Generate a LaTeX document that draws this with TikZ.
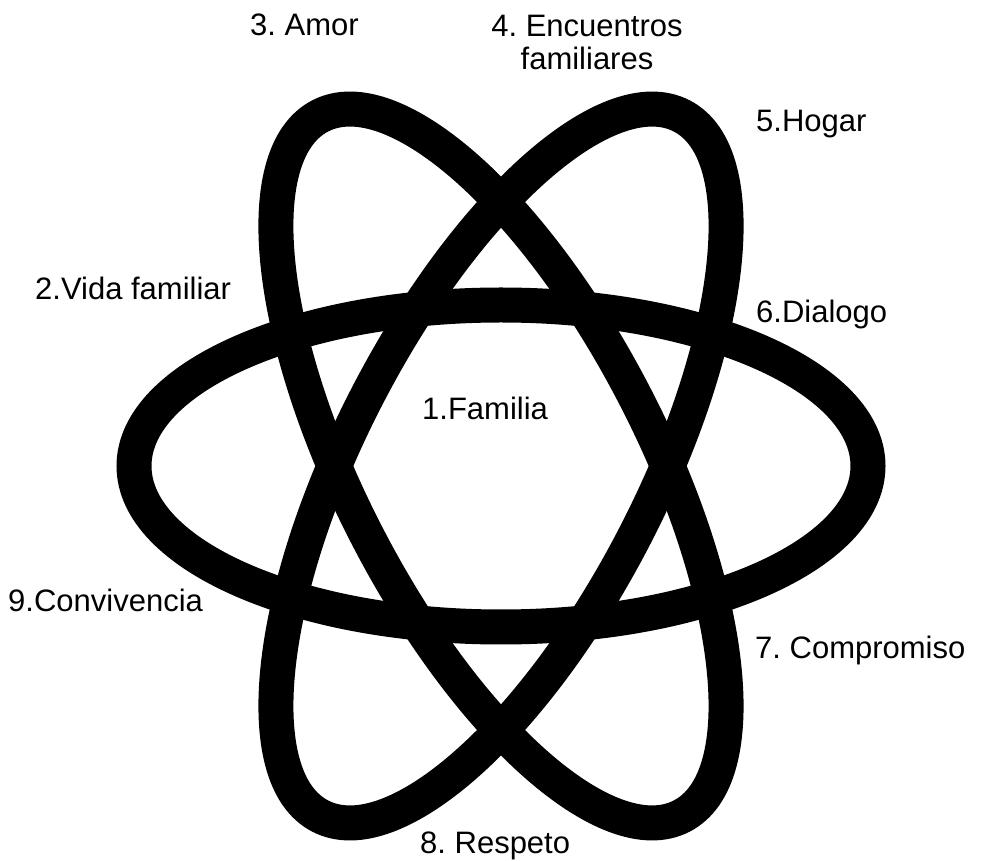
\documentclass[tikz,border=0pt]{standalone}
\usepackage{fontspec}
\setmainfont{Liberation Sans}
\usepackage{xcolor}
\usepackage{tikz}
\definecolor{orbitink}{HTML}{000000}
\colorlet{labeltext}{black}
\frenchspacing
\tikzset{every node/.append style={font=\fontsize{31}{33}\selectfont}}
\tikzset{
  orbit/.style={draw=orbitink,line width=35pt},
  tag/.style={anchor=base west,inner sep=0pt,text=labeltext}
}

\begin{document}
\begin{tikzpicture}[x=1pt,y=1pt]
  \useasboundingbox (0,0) rectangle (983,860);
  \coordinate (nucleo) at (501,394);
  \draw[orbit] (nucleo) ellipse[x radius=367,y radius=161];
  \foreach \ang in {62.7,-62.7}
    \draw[orbit,rotate around={\ang:(nucleo)}] (nucleo) ellipse[x radius=394,y radius=151];
  \node[tag] (familia) at (422,440) {1.Familia};
  \node[tag] (vida) at (35,560) {2.Vida familiar};
  \node[tag] (amor) at (250,824) {3. Amor};
  \node[anchor=north,inner sep=0pt,align=center,text=labeltext] (encuentros) at (587,845) {4. Encuentros\\familiares};
  \node[tag] (hogar) at (756,728) {5.Hogar};
  \node[tag] (dialogo) at (756,537) {6.Dialogo};
  \node[tag] (compromiso) at (755,201) {7. Compromiso};
  \node[tag] (respeto) at (420,7) {8. Respeto};
  \node[tag] (convivencia) at (8,248) {9.Convivencia};
\end{tikzpicture}
\end{document}
